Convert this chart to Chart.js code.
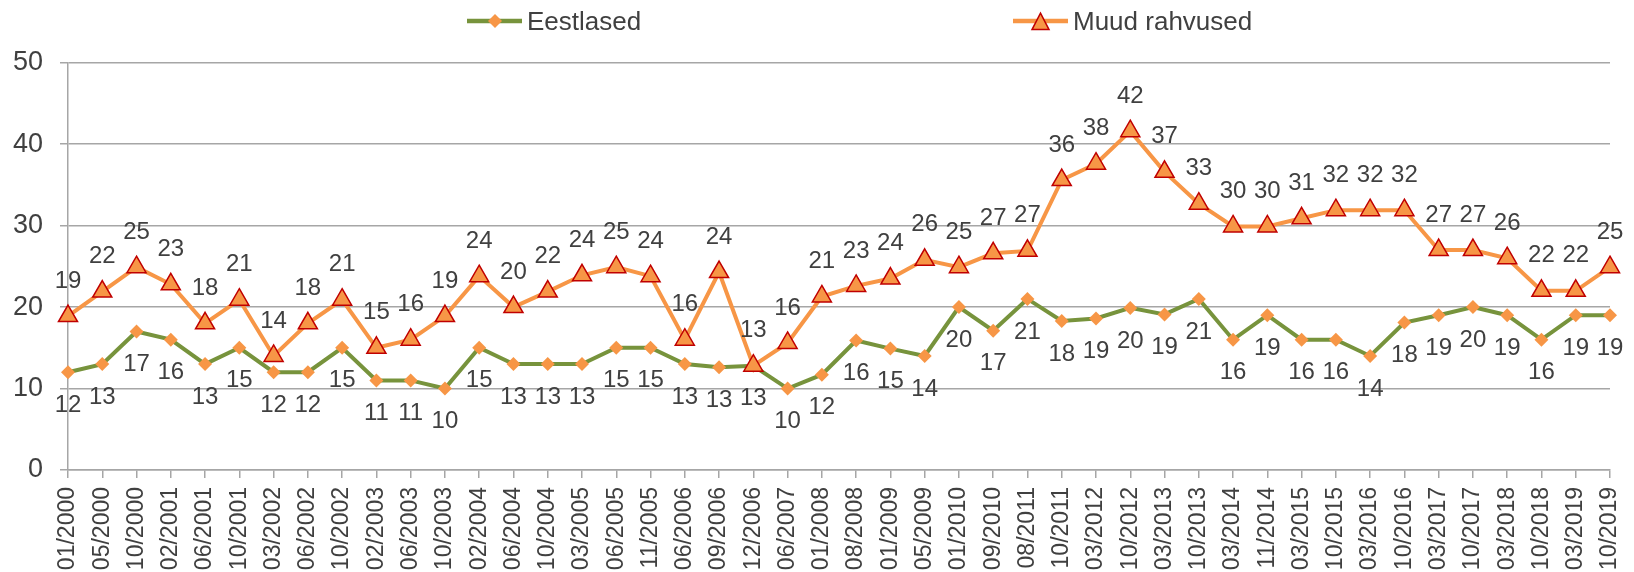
<!DOCTYPE html>
<html>
<head>
<meta charset="utf-8">
<script src="https://cdn.jsdelivr.net/npm/chart.js@4.4.1/dist/chart.umd.min.js"></script>
<style>
  html, body { margin: 0; padding: 0; background: #fff; overflow: hidden; }
  #wrap { position: relative; width: 1634px; height: 572px; }
  #chart { position: absolute; left: 0; top: 0; }
  .legend-item {
    position: absolute; top: 8.7px; height: 24px;
    display: flex; align-items: center;
    font: 26px "Liberation Sans", Arial, sans-serif; line-height: 24px; color: #404040;
    white-space: nowrap;
  }
  .legend-item svg { margin-right: 5px; }
</style>
</head>
<body>
<div id="wrap">
  <canvas id="chart" width="1634" height="572"></canvas>
  <div class="legend-item" style="left:467px">
    <svg width="55" height="24"><line x1="0" y1="12" x2="55" y2="12" stroke="#77933C" stroke-width="4.5"/><polygon points="28,5 35,12 28,19 21,12" fill="#F79646"/></svg>
    <span>Eestlased</span>
  </div>
  <div class="legend-item" style="left:1013px">
    <svg width="55" height="24"><line x1="0" y1="12" x2="55" y2="12" stroke="#F79646" stroke-width="4.5"/><polygon points="27.5,4.2 36,20.6 19,20.6" fill="#F79646" stroke="#C00000" stroke-width="1.5"/></svg>
    <span>Muud rahvused</span>
  </div>
</div>
<script>
// survey dates (month/year)
const labels = [
  '01/2000', '05/2000', '10/2000', '02/2001', '06/2001', '10/2001', '03/2002', '06/2002',
  '10/2002', '02/2003', '06/2003', '10/2003', '02/2004', '06/2004', '10/2004', '03/2005',
  '06/2005', '11/2005', '06/2006', '09/2006', '12/2006', '06/2007', '01/2008', '08/2008',
  '01/2009', '05/2009', '01/2010', '09/2010', '08/2011', '10/2011', '03/2012', '10/2012',
  '03/2013', '10/2013', '03/2014', '11/2014', '03/2015', '10/2015', '03/2016', '10/2016',
  '03/2017', '10/2017', '03/2018', '10/2018', '03/2019', '10/2019',
];

const eestlased = [
  12.0, 13.0, 17.0, 16.0, 13.0, 15.0, 12.0, 12.0, 15.0, 11.0, 11.0, 10.0, 15.0, 13.0, 13.0, 13.0,
  15.0, 15.0, 13.0, 12.6, 12.8, 10.0, 11.7, 15.9, 14.9, 14.0, 20.0, 17.1, 21.0, 18.3, 18.6, 19.9,
  19.1, 21.0, 16.0, 19.0, 16.0, 16.0, 14.0, 18.1, 19.0, 20.0, 19.0, 16.0, 19.0, 19.0,
];

const muudRahvused = [
  18.9, 21.9, 24.9, 22.8, 18.0, 20.9, 14.0, 18.0, 20.9, 15.0, 16.0, 18.9, 23.8, 20.0, 21.9, 23.9,
  24.9, 23.8, 16.0, 24.3, 12.8, 15.6, 21.3, 22.6, 23.5, 25.8, 24.9, 26.6, 26.9, 35.6, 37.6, 41.6,
  36.6, 32.7, 29.9, 29.9, 30.9, 31.9, 31.9, 31.9, 27.0, 27.0, 26.0, 22.0, 22.0, 24.9,
];

const yTicks = [0, 10, 20, 30, 40, 50];

const TEXT = '#404040';
const GRID = '#A6A6A6';
const FONT = '"Liberation Sans", Arial, sans-serif';

// draws the rounded value next to each point (above for orange, below for green)
const valueLabels = {
  id: 'valueLabels',
  afterDatasetsDraw(chart) {
    const ctx = chart.ctx;
    ctx.save();
    ctx.font = `24px ${FONT}`;
    ctx.fillStyle = TEXT;
    ctx.textAlign = 'center';
    ctx.textBaseline = 'middle';
    chart.data.datasets.forEach((ds, i) => {
      const meta = chart.getDatasetMeta(i);
      meta.data.forEach((pt, j) => {
        ctx.fillText(String(Math.round(ds.data[j])), pt.x, pt.y + ds.labelOffset);
      });
    });
    ctx.restore();
  },
};

new Chart(document.getElementById('chart'), {
  type: 'line',
  data: {
    labels,
    datasets: [
      {
        label: 'Eestlased',
        data: eestlased,
        borderColor: '#77933C',
        borderWidth: 4,
        pointStyle: 'rectRot',
        pointRadius: 7,
        pointBackgroundColor: '#F79646',
        pointBorderColor: '#F79646',
        pointBorderWidth: 0,
        tension: 0,
        order: 2,
        labelOffset: 33,
      },
      {
        label: 'Muud rahvused',
        data: muudRahvused,
        borderColor: '#F79646',
        borderWidth: 4,
        pointStyle: 'triangle',
        pointRadius: 11,
        pointBackgroundColor: '#F79646',
        pointBorderColor: '#C00000',
        pointBorderWidth: 1.5,
        tension: 0,
        order: 1,
        labelOffset: -35,
      },
    ],
  },
  options: {
    responsive: false,
    animation: false,
    events: [],
    layout: { padding: { top: 62.7, right: 24, bottom: 0, left: 0 } },
    plugins: {
      legend: { display: false },
      tooltip: { enabled: false },
    },
    scales: {
      x: {
        offset: false,
        afterFit: (scale) => {
          scale.height = 102;
          // rotated labels would otherwise reserve extra room on the right
          scale.paddingLeft = 0;
          scale.paddingRight = 0;
        },
        grid: { drawOnChartArea: false, drawTicks: true, tickLength: 8, color: GRID, lineWidth: 1.5 },
        border: { display: true, color: GRID, width: 1.5 },
        ticks: {
          autoSkip: false,
          minRotation: 90,
          maxRotation: 90,
          padding: 9,
          color: TEXT,
          font: { family: FONT, size: 23 },
        },
      },
      y: {
        min: 0,
        max: 50,
        afterFit: (scale) => { scale.width = 68; },
        afterBuildTicks: (scale) => { scale.ticks = yTicks.map((v) => ({ value: v })); },
        grid: { color: GRID, lineWidth: 1.5, tickLength: 8 },
        border: { display: true, color: GRID, width: 1.5 },
        ticks: {
          padding: 17,
          color: TEXT,
          font: { family: FONT, size: 27 },
        },
      },
    },
  },
  plugins: [valueLabels],
});
</script>
</body>
</html>
